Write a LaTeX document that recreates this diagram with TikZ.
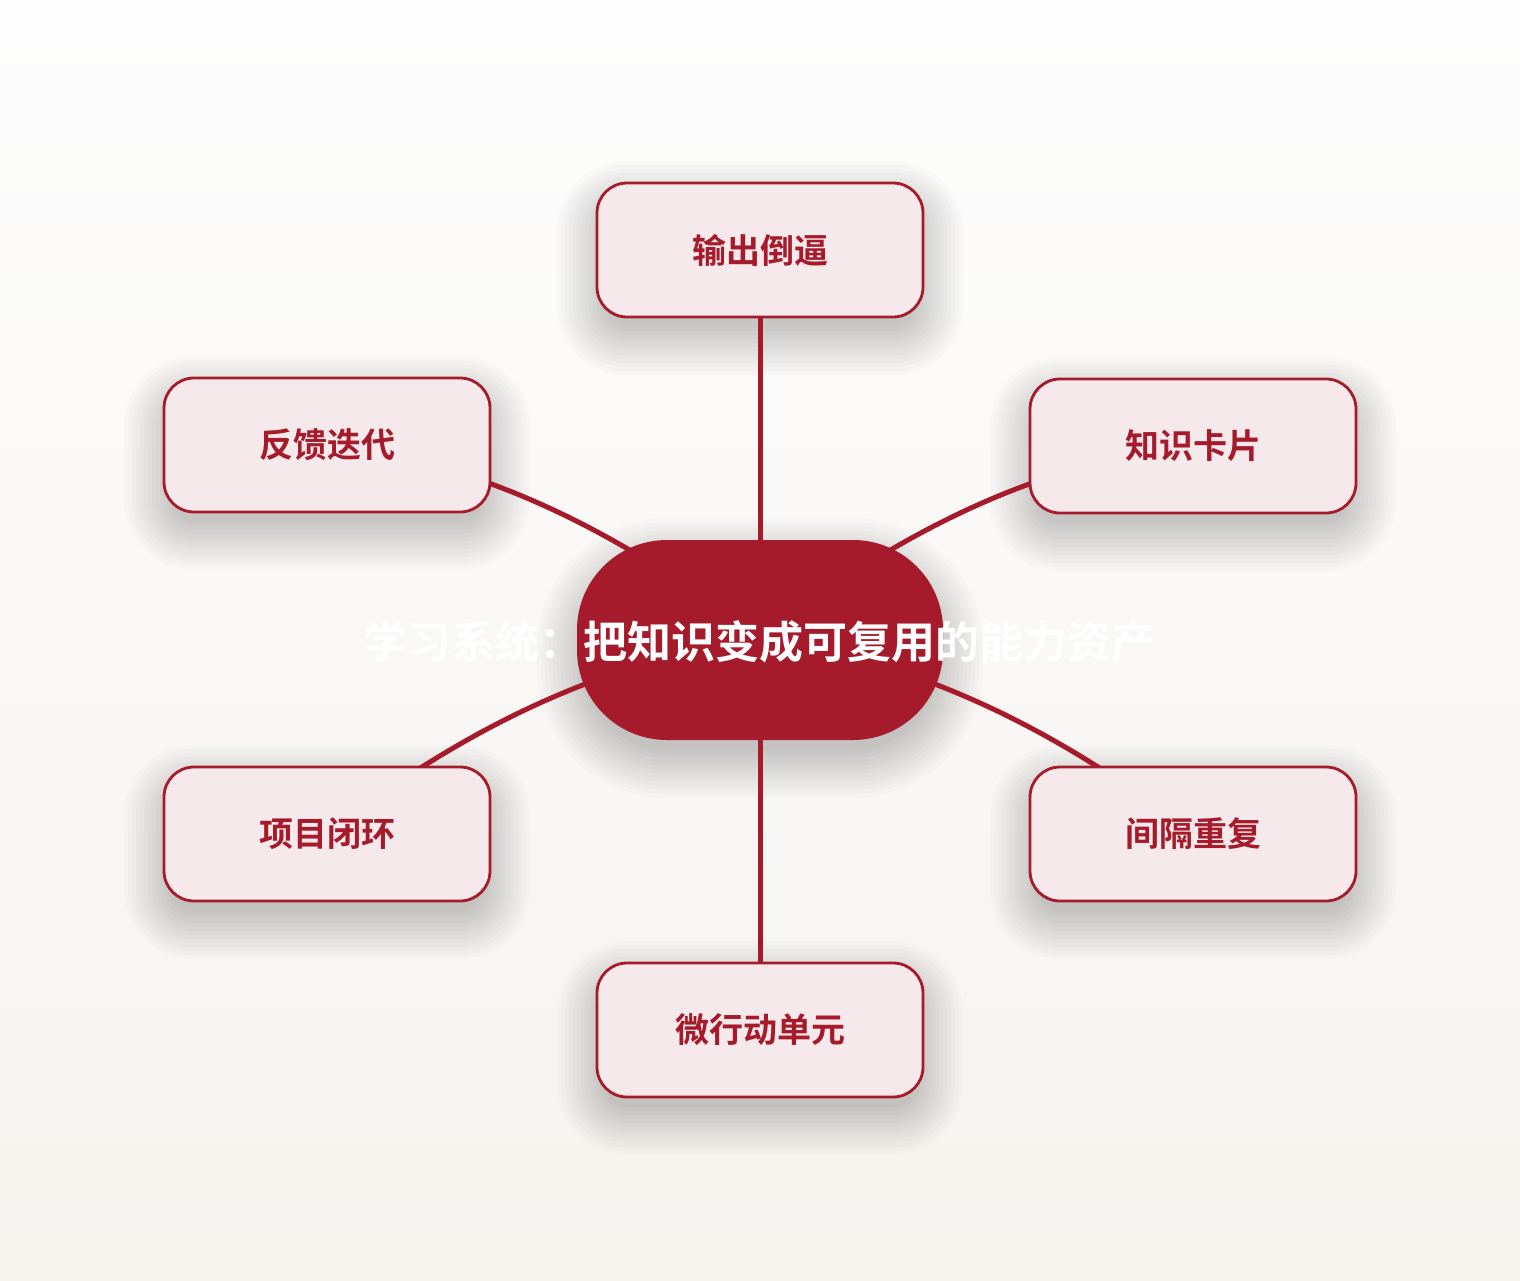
\documentclass[tikz,border=0pt]{standalone}
\usepackage{fontspec}
\setmainfont{Noto Sans CJK SC}[BoldFont={Noto Sans CJK SC Bold}]
\definecolor{dred}{HTML}{A51B2B}
\definecolor{pinkfill}{HTML}{F5E9EB}
\definecolor{bgtop}{HTML}{FDFDFD}
\definecolor{bgbot}{HTML}{F6F3EF}
\tikzset{
  leaf/.style={draw=dred, line width=1.4pt, fill=pinkfill, rounded corners=15pt,
    minimum width=163pt, minimum height=67pt, text=dred, font=\bfseries\fontsize{17pt}{20pt}\selectfont},
  hub/.style={fill=dred, rounded corners=45pt, minimum width=183pt, minimum height=100pt},
  link/.style={draw=dred, line width=2.5pt, line cap=round},
}
% soft shadow: centre x, centre y, width, height, radius (all in px)
\newcommand\softshade[5]{%
  \foreach \e in {40,36,...,-8}{%
    \pgfmathsetmacro\xa{#1-#3/2-\e}%
    \pgfmathsetmacro\xb{#1+#3/2+\e}%
    \pgfmathsetmacro\ya{#2-#4/2-\e+18}%
    \pgfmathsetmacro\yb{#2+#4/2+\e+18}%
    \pgfmathsetmacro\rr{(#5+\e)*0.5}%
    \fill[black, opacity=0.015, rounded corners=\rr pt] (\xa,\ya) rectangle (\xb,\yb);
  }%
}
\begin{document}
\begin{tikzpicture}[x=0.5pt,y=-0.5pt]
\shade[top color=bgtop, bottom color=bgbot] (0,0) rectangle (1520,1280);
\useasboundingbox (0,0) rectangle (1520,1280);
% shadows
\softshade{760}{250}{326}{134}{30}
\softshade{1193}{446}{326}{134}{30}
\softshade{1193}{834}{326}{134}{30}
\softshade{760}{1030}{326}{134}{30}
\softshade{327}{834}{326}{134}{30}
\softshade{327}{445}{326}{134}{30}
\softshade{760}{640}{366}{200}{90}
\coordinate (c) at (760,640);
\coordinate (pA) at (760,250);
\coordinate (pB) at (1193,446);
\coordinate (pC) at (1193,834);
\coordinate (pD) at (760,1030);
\coordinate (pE) at (327,834);
\coordinate (pF) at (327,445);
% connectors behind nodes
\draw[link] (c) -- (pA);
\draw[link] (c) .. controls (904.7,525.3) and (1049,460.3) .. (pB);
\draw[link] (c) .. controls (904.7,657.3) and (1049,722) .. (pC);
\draw[link] (c) -- (pD);
\draw[link] (c) .. controls (615.3,657.3) and (471,722) .. (pE);
\draw[link] (c) .. controls (615.3,525.3) and (471,460.3) .. (pF);
\node[hub] (hub) at (c) {};
\node[leaf] (a) at (pA) {输出倒逼};
\node[leaf] (b) at (pB) {知识卡片};
\node[leaf] (cc) at (pC) {间隔重复};
\node[leaf] (d) at (pD) {微行动单元};
\node[leaf] (e) at (pE) {项目闭环};
\node[leaf] (f) at (pF) {反馈迭代};
\node[text=white, font=\bfseries\fontsize{22pt}{26pt}\selectfont] (title) at (759,642) {学习系统：把知识变成可复用的能力资产};
\end{tikzpicture}
\end{document}
